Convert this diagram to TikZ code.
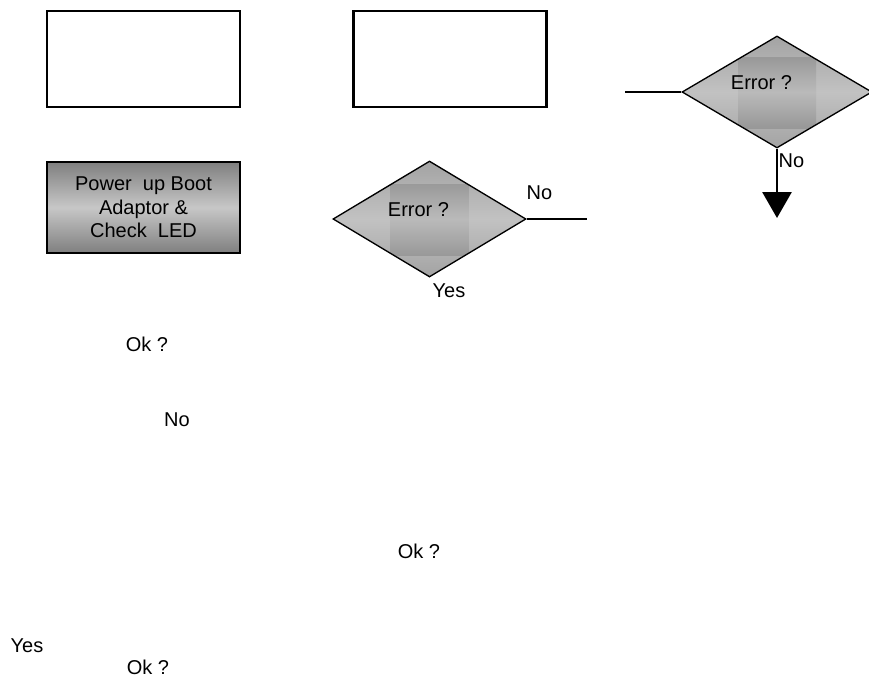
\documentclass[tikz,border=0pt]{standalone}
\usepackage{fontspec}
\setmainfont{Liberation Sans}
\usetikzlibrary{shapes.geometric,arrows.meta}

\begin{document}
\begin{tikzpicture}[x=0.75pt, y=-0.75pt,
    every node/.style={font=\fontsize{15}{17.5}\selectfont},
    txt/.style={inner sep=0pt},
    blank/.style={rectangle, draw, line width=1.6pt, fill=white,
        minimum width=144.75pt, minimum height=72pt},
    action/.style={rectangle, draw, line width=1.6pt, align=center,
        minimum width=144.75pt, minimum height=68pt,
        top color=black!50, bottom color=black!50, middle color=black!22},
    decision/.style={diamond, draw, line width=1pt, inner sep=0pt,
        minimum width=144.75pt, minimum height=87pt,
        top color=black!36, bottom color=black!36, middle color=black!24,
        path picture={\shade[top color=black!48, bottom color=black!48, middle color=black!27]
            ([shift={(-39,-35)}]path picture bounding box.center) rectangle
            ([shift={(39,36)}]path picture bounding box.center);}},
    wire/.style={line width=1pt}]
    \useasboundingbox (0,0) rectangle (869,682);
    \clip (0,0) rectangle (869,682);

    % top row
    \node at (143.5, 59) [blank] (b1) {};
    \node at (450, 59) [blank] (b2) {};

    % second row
    \node at (143.5, 207.5) [action] (boot) {Power~ up Boot\\Adaptor \&\\Check~ LED};
    \node at (429.5, 219) [decision] (err1) {};
    \node at (777, 92) [decision, minimum width=142.5pt, minimum height=84pt] (err2) {};

    \node at ([shift={(-11,-9.5)}]err1.center) [txt] (err1t) {Error ?};
    \node at ([shift={(-15.5,-9.5)}]err2.center) [txt] (err2t) {Error ?};

    \coordinate (no1end) at (587, 219);
    \coordinate (in2) at (625, 92);
    \coordinate (down2) at (777, 218);

    \draw[wire] (err1.east) -- (no1end);
    \draw[wire] (in2) -- (err2.west);
    \draw[line width=2.2pt, -{Triangle[width=21.75pt, length=19.5pt]}] (err2.south) -- (down2);

    % labels
    \node at (539.5, 192.5) [txt] (no1) {No};
    \node at (449, 291) [txt] (yes1) {Yes};
    \node at (791.5, 160.5) [txt] (no2) {No};

    \node at (147, 344) [txt] (ok1) {Ok ?};
    \node at (177, 419.5) [txt] (no3) {No};
    \node at (419, 551) [txt] (ok2) {Ok ?};
    \node at (27, 646) [txt] (yes2) {Yes};
    \node at (148, 667) [txt] (ok3) {Ok ?};
\end{tikzpicture}
\end{document}
